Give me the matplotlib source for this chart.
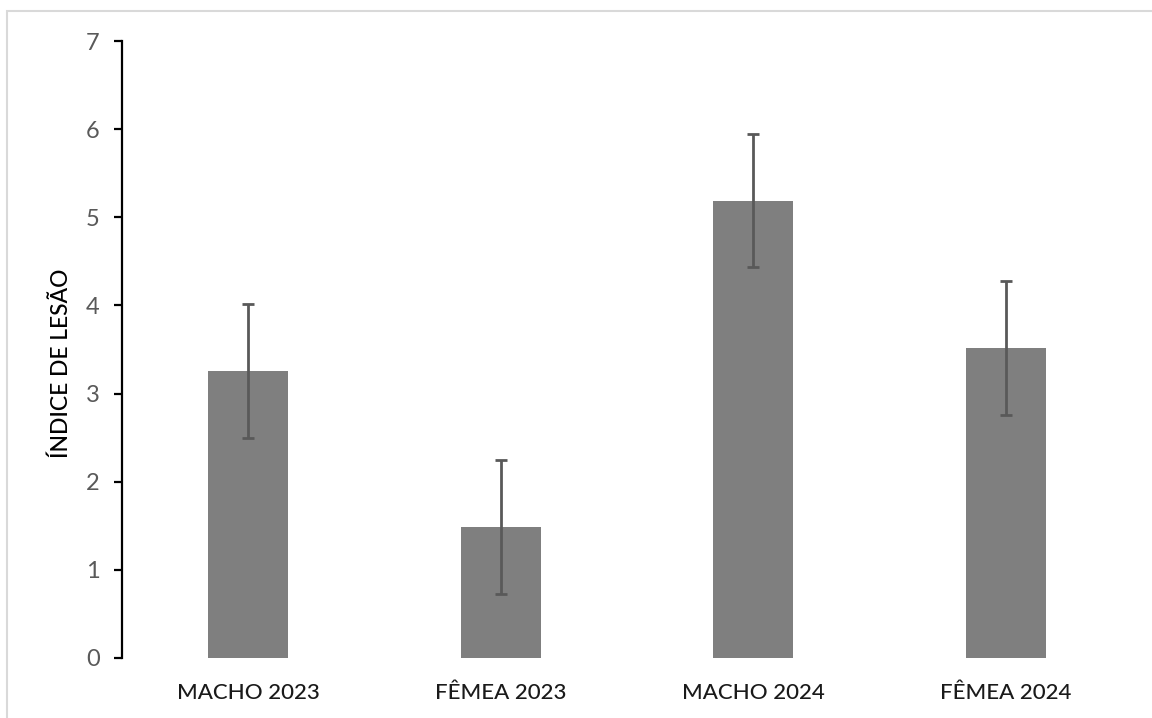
import matplotlib.pyplot as plt
from matplotlib.patches import Rectangle

# Dati
categorias = ['MACHO 2023', 'FÊMEA 2023', 'MACHO 2024', 'FÊMEA 2024']
indice = [3.26, 1.49, 5.19, 3.52]
erro = [0.76, 0.76, 0.75, 0.76]

plt.rcParams['font.family'] = ['Lato', 'DejaVu Sans']

fig = plt.figure(figsize=(11.52, 7.18), dpi=100)
ax = fig.add_axes([122 / 1152, 1 - 658 / 718, 1010 / 1152, 617 / 718])

# bordo grigio chiaro del grafico
fig.patches.append(Rectangle((7 / 1152, -0.1), 1.2, 1 - 11 / 718 + 0.1,
                             transform=fig.transFigure, fill=False,
                             edgecolor='#d9d9d9', linewidth=1.5))

x = range(len(categorias))
ax.bar(x, indice, width=0.315, color='#7f7f7f', zorder=2)
ax.errorbar(x, indice, yerr=erro, fmt='none', ecolor='#595959',
            elinewidth=2, capsize=4.5, capthick=2, zorder=3)

ax.set_xlim(-0.5, len(categorias) - 0.5)
ax.set_ylim(0, 7)
ax.set_yticks(range(8))
ax.set_xticks(list(x))
ax.set_xticklabels(categorias, fontsize=16, color='#1a1a1a', fontweight='medium')
ax.set_ylabel('ÍNDICE DE LESÃO', fontsize=16.5, color='black',
              fontweight='medium')
ax.yaxis.set_label_coords(-0.05, 0.478)

for s in ['top', 'right', 'bottom']:
    ax.spines[s].set_visible(False)
ax.spines['left'].set_linewidth(1.6)
ax.spines['left'].set_color('black')
ax.tick_params(axis='y', direction='out', length=6, width=1.6, colors='black',
               labelcolor='#595959', labelsize=17, pad=10)
ax.tick_params(axis='x', length=0, pad=18)

fig.savefig('out.png', dpi=100)
